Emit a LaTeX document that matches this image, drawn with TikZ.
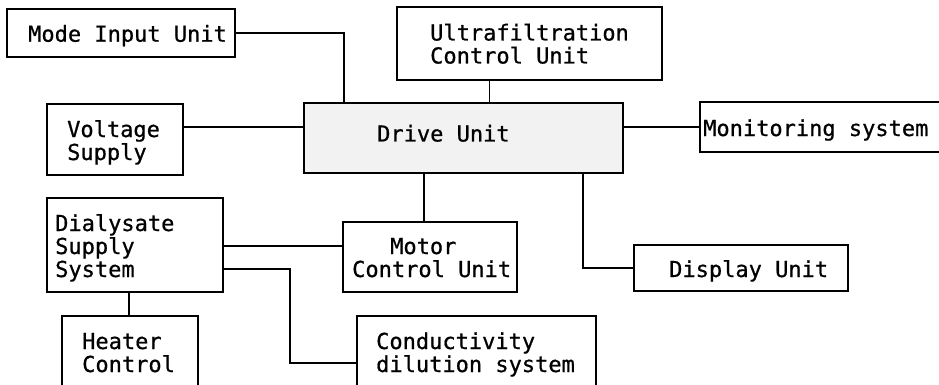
\documentclass[tikz,border=0pt]{standalone}
\usepackage{fontspec}
\newfontfamily\lblfont[FakeBold=0.7]{DejaVu Sans Mono}
\begin{document}
\begin{tikzpicture}[x=1pt,y=-1pt,
  box/.style={draw=black,line width=1.2pt,rectangle,inner sep=0pt,outer sep=0pt},
  lbl/.style={anchor=base west,inner sep=0pt,align=left,font=\lblfont\fontsize{22}{23}\selectfont},
  wire/.style={draw=black,line width=1.2pt}]
\useasboundingbox (0,0) rectangle (939,385);
% boxes
\node[box,minimum width=228pt,minimum height=48pt] (mode) at (121,33) {};
\node[box,minimum width=265pt,minimum height=73pt] (ultra) at (529.5,43.5) {};
\node[box,fill=black!5,minimum width=319pt,minimum height=70pt] (drive) at (463.5,138) {};
\node[box,minimum width=136pt,minimum height=71pt] (volt) at (115,139.5) {};
\node[box,minimum width=260pt,minimum height=50pt] (mon) at (830,127) {};
\node[box,minimum width=174pt,minimum height=70pt] (motor) at (430,257) {};
\node[box,minimum width=214pt,minimum height=46pt] (disp) at (741,268) {};
\node[box,minimum width=176pt,minimum height=94pt] (dial) at (135,245) {};
\node[box,minimum width=136pt,minimum height=94pt] (heat) at (130,363) {};
\node[box,minimum width=239pt,minimum height=94pt] (cond) at (476.5,363) {};
% labels (base = baseline of last line)
\node[lbl] (modeT) at (28,41.7) {Mode Input Unit};
\node[lbl] (ultraT) at (430,63.5) {Ultrafiltration\\Control Unit};
\node[lbl] (driveT) at (377,141.5) {Drive Unit};
\node[lbl] (voltT) at (67,160) {Voltage\\Supply};
\node[lbl] (monT) at (703,136) {Monitoring system};
\node[lbl] (motorT) at (352,277) {\hspace*{38pt}Motor\\Control Unit};
\node[lbl] (dispT) at (669,277) {Display Unit};
\node[lbl] (dialT) at (55,277) {Dialysate\\Supply\\System};
\node[lbl] (heatT) at (82,372) {Heater\\Control};
\node[lbl] (condT) at (376,372) {Conductivity\\dilution system};
% connectors
\draw[wire] (mode.east) -| ([xshift=40pt]drive.north west);
\draw[wire] (ultra.south) ++(-40,0) coordinate (u1) -- (u1 |- drive.north);
\draw[wire] (volt.east |- 0,127) -- (drive.west |- 0,127);
\draw[wire] (drive.east |- mon.west) -- (mon.west);
\draw[wire] (drive.south -| 424,0) -- (motor.north -| 424,0);
\draw[wire] (drive.south -| 583,0) |- (disp.west);
\draw[wire] (dial.east |- 0,246) -- (motor.west |- 0,246);
\draw[wire] (dial.east |- 0,269) -- (290,269) |- (cond.west |- 0,363);
\draw[wire] (dial.south -| 129,0) -- (heat.north -| 129,0);
\end{tikzpicture}
\end{document}
